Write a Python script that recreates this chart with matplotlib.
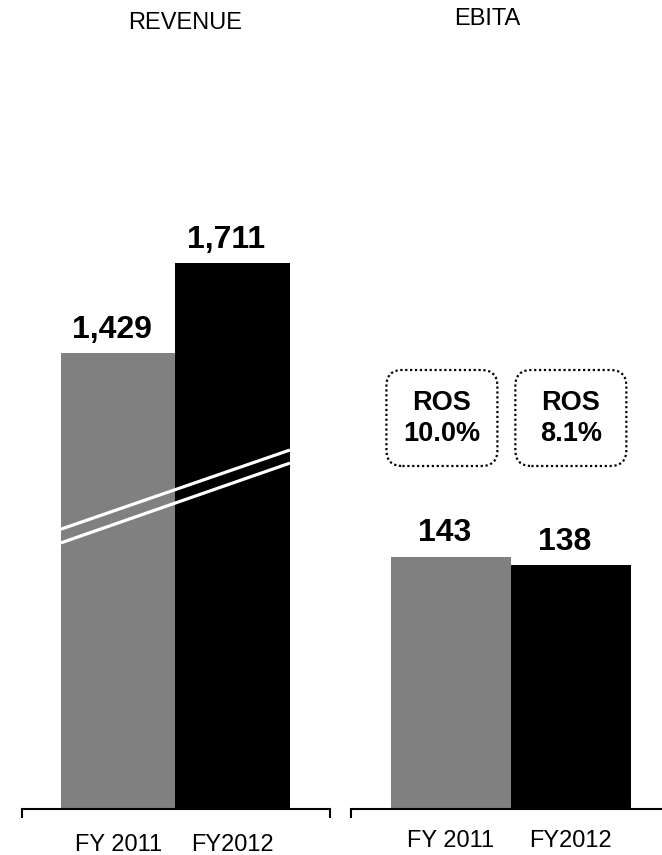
import matplotlib
matplotlib.use("Agg")
import matplotlib.pyplot as plt
from matplotlib.patches import FancyBboxPatch

# data
years = ["FY 2011", "FY2012"]
revenue = [1429, 1711]
ebita = [143, 138]
ros = ["10.0%", "8.1%"]
bar_colors = ["#808080", "#000000"]

# white "break" marks across the revenue bars
break_x = [-0.5, 1.5]
break_upper = [877, 1125]
break_lower = [834, 1084]

plt.rcParams["font.family"] = ["Liberation Sans Narrow", "Liberation Sans", "DejaVu Sans"]

W, H = 662, 855
fig = plt.figure(figsize=(W / 100, H / 100), dpi=100)

def px_axes(x0, x1, y_bottom, y_top):
    return fig.add_axes([x0 / W, (H - y_bottom) / H, (x1 - x0) / W, (y_bottom - y_top) / H])

ax1 = px_axes(22, 330, 809, 60)
ax2 = px_axes(351, 662, 809, 60)

def style(ax, xlim, ylim, ends, pad):
    ax.set_xlim(*xlim)
    ax.set_ylim(*ylim)
    for s in ("top", "left", "right"):
        ax.spines[s].set_visible(False)
    ax.spines["bottom"].set_linewidth(1.5)
    ax.set_yticks([])
    ax.set_xticks(range(len(years)))
    ax.set_xticklabels(years, fontsize=17)
    ax.tick_params(axis="x", which="major", length=0, pad=pad)
    ax.set_xticks(ends, minor=True)
    ax.tick_params(axis="x", which="minor", length=6.5, width=1.5, direction="out")

style(ax1, (-0.84, 1.85), (0, 749 / 0.3191), [-0.84, 1.85], 18)
style(ax2, (-0.833, 1.76), (0, 749 / 1.765), [-0.833], 15)

x = list(range(len(years)))
ax1.bar(x, revenue, width=1.0, color=bar_colors)
ax2.bar(x, ebita, width=1.0, color=bar_colors)

ax1.plot(break_x, break_upper, color="white", lw=2.3, solid_capstyle="butt")
ax1.plot(break_x, break_lower, color="white", lw=2.3, solid_capstyle="butt")

for ax, vals in ((ax1, revenue), (ax2, ebita)):
    for i, v in enumerate(vals):
        ax.annotate(f"{v:,}", (i, v), xytext=(-4.5, 11), textcoords="offset points",
                    ha="center", va="baseline", fontsize=23, fontweight="bold")

# ROS boxes (pixel-sized, anchored on the EBITA bars)
fig.canvas.draw()
box_w, box_h = 111, 96
box_shift = [-9, 0]
for i, label in enumerate(ros):
    cx, _ = ax2.transData.transform((i, 0))
    cx += box_shift[i]
    top = H - 370
    patch = FancyBboxPatch((cx - box_w / 2, top - box_h), box_w, box_h,
                           boxstyle="round,pad=0,rounding_size=16",
                           transform=None, fill=False, edgecolor="black",
                           linewidth=1.6, linestyle=(0, (1, 1.2)))
    fig.add_artist(patch)
    fig.text(cx / W, (top - box_h / 2) / H, f"ROS\n{label}", ha="center", va="center",
             fontsize=19.5, fontweight="bold", linespacing=1.25)

fig.text(185 / W, 1 - 23 / H, "REVENUE", ha="center", va="center", fontsize=17)
fig.text(487 / W, 1 - 19 / H, "EBITA", ha="center", va="center", fontsize=17)

fig.savefig("out.png", dpi=100)
